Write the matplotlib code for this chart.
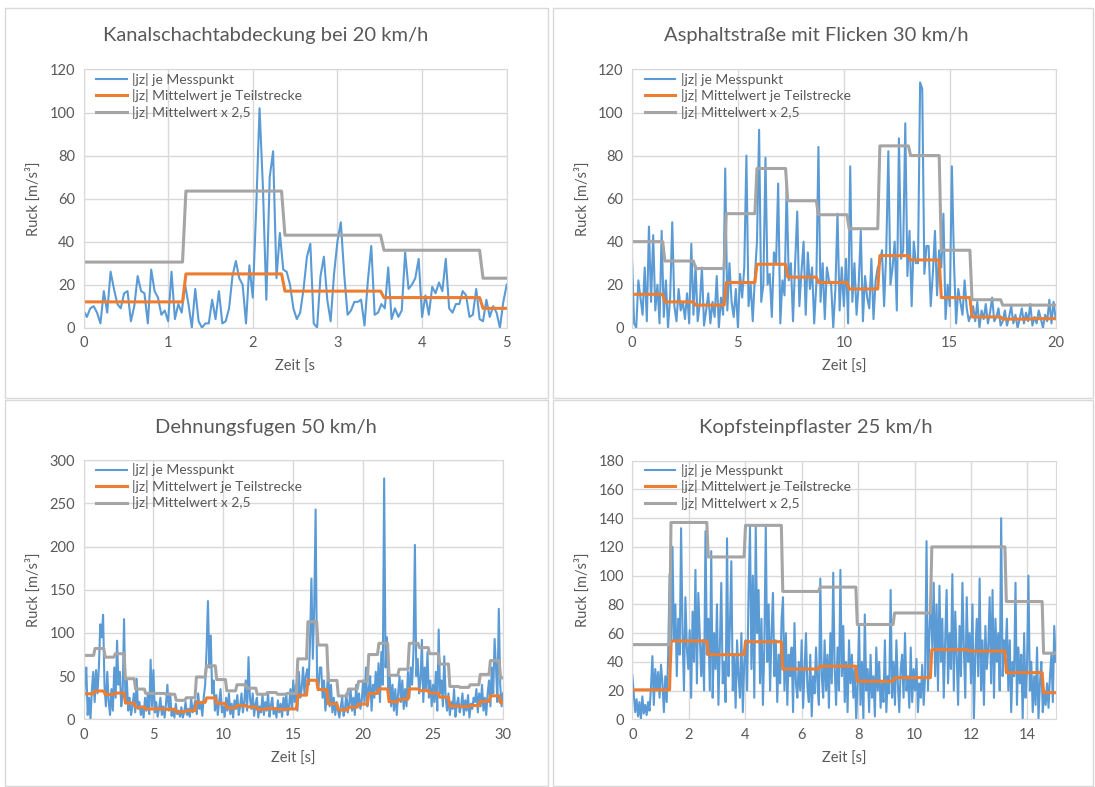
import numpy as np
import matplotlib.pyplot as plt
from matplotlib.patches import Rectangle

plt.rcParams['font.family'] = ['Lato', 'DejaVu Sans']

# --- Daten: Kanalschachtabdeckung 20 km/h ---
t1_end = 5
jz1 = [8, 5, 9, 10, 7, 2, 17, 7, 26, 18, 11, 9, 16, 17, 3, 10, 24, 17, 16, 2,
       27, 17, 14, 6, 8, 3, 26, 4, 11, 7, 20, 11, 0, 18, 3, 0, 2, 2, 13, 4,
       17, 2, 3, 9, 24, 31, 23, 20, 2, 29, 14, 55, 102, 65, 13, 70, 82, 23, 44, 27,
       26, 20, 9, 4, 7, 18, 33, 39, 2, 0, 24, 33, 13, 3, 25, 40, 49, 25, 6, 8,
       12, 12, 13, 1, 22, 38, 6, 7, 11, 9, 28, 4, 9, 5, 8, 35, 18, 20, 23, 32,
       5, 15, 6, 19, 16, 21, 17, 32, 9, 7, 11, 11, 17, 15, 5, 6, 18, 4, 3, 13,
       5, 10, 7, 0, 12, 20]
seg1 = 1.17
mittel1 = [12, 25, 17, 14, 9]
mittel1_25 = [30.5, 63.5, 43, 36, 23]

# --- Daten: Asphaltstraße mit Flicken 30 km/h ---
t2_end = 20
jz2 = [32, 2, 0, 22, 14, 6, 28, 3, 47, 12, 43, 8, 20, 2, 45,
       5, 22, 0, 14, 49, 10, 3, 18, 8, 12, 4, 16, 2, 39, 6,
       29, 3, 11, 28, 1, 8, 16, 2, 12, 5, 24, 0, 14, 6,
       74, 8, 30, 12, 5, 18, 0, 25, 14, 28, 80, 10, 20, 3, 24,
       40, 92, 12, 20, 79, 20, 25, 5, 35, 30, 67, 2, 22, 15,
       66, 22, 30, 3, 30, 54, 10, 26, 40, 6, 35, 18, 28, 2, 20,
       84, 12, 30, 4, 28, 22, 20, 0, 18, 53, 8, 28, 10, 32,
       2, 75, 12, 30, 6, 20, 45, 3, 24, 14, 9, 32, 4, 22, 28,
       30, 36, 10, 35, 82, 20, 28, 40, 8, 88, 32, 36, 95, 24,
       45, 10, 40, 30, 30, 114, 111, 25, 38, 38, 10, 25, 45, 15, 36,
       28, 53, 4, 20, 10, 75, 30, 2, 18, 12, 6, 22, 9, 3,
       6, 10, 3, 12, 0, 8, 4, 11, 2, 7, 14, 3, 5, 9, 1,
       3, 8, 1, 5, 10, 2, 6, 0, 4, 9, 2, 7, 3, 11, 1, 5, 2, 8, 4, 0, 6, 3, 13, 2, 12, 4]
seg2 = 1.45
mittel2 = [15.5, 12, 10.5, 21, 29.5, 23.5, 21, 18, 33.5, 31.5, 14, 5, 4, 4.2]
mittel2_25 = [40, 31, 27.5, 53, 74, 59, 52.5, 46, 84.5, 80, 36, 13, 10.5, 10.5]

# --- Daten: Dehnungsfugen 50 km/h ---
t3_end = 30
jz3 = [10, 45, 60, 5, 25, 0, 35, 55, 20, 57,
       30, 60, 110, 95, 121, 40, 15, 55, 20, 5,
       35, 10, 60, 25, 91, 40, 55, 15, 30, 116,
       20, 45, 10, 25, 5, 15, 30, 8, 47, 12,
       20, 5, 15, 2, 25, 10, 30, 6, 69, 15,
       57, 8, 20, 3, 12, 25, 5, 15, 2, 18,
       40, 10, 30, 4, 12, 2, 18, 6, 10, 3,
       14, 2, 8, 20, 5, 12, 3, 25, 8, 15,
       22, 6, 30, 12, 18, 4, 26, 40, 80, 137,
       60, 97, 30, 45, 10, 28, 5, 20, 35, 8,
       15, 3, 25, 10, 30, 6, 18, 2, 22, 12,
       28, 5, 15, 30, 8, 20, 45, 10, 72, 25,
       12, 30, 4, 18, 25, 2, 15, 8, 28, 5,
       20, 10, 30, 3, 16, 25, 6, 12, 2, 22,
       8, 18, 3, 25, 10, 30, 5, 15, 35, 12,
       45, 20, 40, 10, 55, 25, 35, 60, 30, 50,
       58, 40, 90, 163, 70, 130, 243, 50, 35, 60,
       60, 25, 45, 10, 30, 55, 15, 40, 8, 25,
       5, 20, 10, 2, 15, 25, 4, 12, 30, 8,
       18, 35, 10, 25, 5, 40, 15, 30, 12, 22,
       45, 20, 60, 15, 35, 50, 10, 40, 25, 55,
       30, 65, 20, 78, 40, 279, 60, 95, 30, 50,
       15, 40, 10, 35, 5, 30, 50, 20, 45, 12,
       35, 15, 55, 25, 60, 40, 80, 202, 50, 70,
       30, 45, 92, 20, 60, 35, 78, 25, 45, 15,
       40, 20, 55, 10, 104, 30, 45, 15, 73, 25,
       10, 30, 5, 20, 12, 35, 3, 18, 25, 8,
       15, 30, 5, 22, 10, 28, 2, 18, 12, 25,
       20, 35, 8, 30, 15, 40, 10, 25, 5, 30,
       45, 15, 60, 30, 93, 60, 20, 128, 40, 15,
       30]
seg3 = 0.725
mittel3 = [29.6, 32.8, 28.8, 30.4, 18.8, 14, 12, 12, 11.6, 8.8, 10, 19.6, 24.8, 18.4,
           13.2, 16, 14.4, 11.6, 12.4, 11.6, 12, 28, 45.2, 34.4, 18, 10.8, 14, 17.6,
           30, 35.2, 20.4, 23.2, 35.2, 33.2, 30.4, 25.6, 15.2, 14.8, 16, 20.8, 27.2, 19.2]
mittel3_25 = [74, 82, 72, 76, 47, 35, 30, 30, 29, 22, 25, 49, 62, 46,
              33, 40, 36, 29, 31, 29, 30, 70, 113, 86, 45, 27, 35, 44,
              75, 88, 51, 58, 88, 83, 76, 64, 38, 37, 40, 52, 68, 48]

# --- Daten: Kopfsteinpflaster 25 km/h ---
t4_end = 15
jz4 = [31, 18, 5, 14, 2, 12, 0, 16, 4, 10, 3, 12, 6, 22, 44, 10, 35, 20, 33, 15, 38, 25, 5, 30, 12, 45,
       101, 40, 120, 55, 80, 30, 70, 45, 133, 60, 20, 85, 50, 35, 62, 15, 75, 40, 104, 25, 88, 60, 30, 55, 20, 131, 45,
       70, 20, 117, 15, 60, 35, 80, 10, 50, 95, 25, 40, 12, 126, 30, 65, 110, 20, 45, 8, 55, 30, 15, 60, 5, 40,
       55, 20, 88, 134, 35, 100, 15, 134, 60, 90, 25, 70, 10, 50, 134, 40, 80, 20, 60, 88, 30, 55, 12, 45, 25, 70,
       85, 20, 60, 10, 45, 30, 50, 5, 67, 25, 15, 40, 20, 55, 8, 35, 60, 22, 12, 45, 2, 30, 18, 50, 25, 10,
       98, 30, 15, 55, 20, 45, 8, 60, 25, 102, 35, 10, 50, 20, 104, 30, 65, 12, 40, 5, 55, 25, 45, 15, 35, 0,
       25, 65, 10, 40, 0, 73, 20, 35, 5, 45, 15, 30, 2, 50, 20, 40, 8, 25, 12, 55, 5, 30, 18, 90, 15,
       40, 10, 55, 25, 5, 35, 45, 15, 60, 20, 30, 8, 50, 12, 35, 20, 42, 5, 25, 15, 38, 10, 30, 124, 20, 60, 85,
       50, 95, 30, 80, 20, 93, 40, 70, 15, 55, 90, 25, 60, 35, 101, 20, 75, 45, 10, 65, 30, 95, 50, 15, 85, 40,
       60, 25, 80, 0, 45, 70, 30, 98, 20, 55, 10, 65, 35, 50, 85, 25, 90, 15, 70, 40, 60, 20, 140, 30, 55, 45,
       70, 20, 55, 5, 40, 30, 95, 10, 50, 25, 45, 0, 60, 15, 35, 100, 20, 40, 5, 30, 10, 50, 0, 25, 40,
       5, 20, 10, 25, 8, 30, 45, 12, 65, 40]
seg4 = 1.32
mittel4 = [20.5, 54.5, 45, 54, 35, 37, 26.5, 29, 48.5, 47.5, 32.5, 18.5]
mittel4_25 = [52, 137, 113, 135, 89, 92, 66, 74, 120, 120, 82, 46]

labels = ['|jz| je Messpunkt', '|jz| Mittelwert je Teilstrecke', '|jz| Mittelwert x 2,5']
txt = '#595959'
grid = '#D9D9D9'
W, H = 1095, 787


def box(x0, y0, x1, y1):
    return [x0 / W, 1 - y1 / H, (x1 - x0) / W, (y1 - y0) / H]


def stufen(levels, seg, t_end, dt):
    xs, ys = [], []
    for k, lv in enumerate(levels):
        a = k * seg + (dt if k > 0 else 0)
        b = min((k + 1) * seg, t_end)
        xs += [a, b]
        ys += [lv, lv]
    return xs, ys


def panel(rect, title, tcx, tcy, t_end, jz, seg, m, m25, ymax, ystep, xticks, xlabel):
    ax = fig.add_axes(box(*rect))
    t = np.linspace(0, t_end, len(jz))
    dt = t[1] - t[0]
    ax.plot(t, jz, color='#5B9BD5', lw=1.5, label=labels[0])
    xs, ys = stufen(m, seg, t_end, dt)
    ax.plot(xs, ys, color='#ED7D31', lw=2.2, label=labels[1])
    xs, ys = stufen(m25, seg, t_end, dt)
    ax.plot(xs, ys, color='#A5A5A5', lw=2.2, label=labels[2])
    ax.set_xlim(0, t_end)
    ax.set_ylim(0, ymax)
    ax.set_yticks(np.arange(0, ymax + 1, ystep))
    ax.set_xticks(xticks)
    ax.grid(True, color=grid, lw=1)
    ax.set_axisbelow(True)
    for s in ax.spines.values():
        s.set_color(grid)
    ax.tick_params(length=0, colors=txt, labelsize=10.5, pad=6)
    ax.set_xlabel(xlabel, color=txt, fontsize=10.5, labelpad=7)
    ax.set_ylabel('Ruck [m/s³]', color=txt, fontsize=10.5, labelpad=6)
    ax.legend(loc='upper left', bbox_to_anchor=(0.01, 1.02), frameon=False,
              fontsize=10, labelcolor=txt, handlelength=2.2, handletextpad=0.4,
              labelspacing=0.25, borderaxespad=0.2)
    fig.text(tcx / W, 1 - tcy / H, title, ha='center', va='center',
             fontsize=14.5, color=txt)
    return ax


fig = plt.figure(figsize=(10.95, 7.87), dpi=100)

for r in [(5, 8, 548, 398), (553, 8, 1093, 398), (5, 400, 548, 786), (553, 400, 1093, 786)]:
    fig.patches.append(Rectangle((r[0] / W, 1 - r[3] / H), (r[2] - r[0]) / W, (r[3] - r[1]) / H,
                                 transform=fig.transFigure, fill=False, edgecolor=grid, lw=1))

panel((83.5, 69.5, 506.7, 327.7), 'Kanalschachtabdeckung bei 20 km/h', 266, 36,
      t1_end, jz1, seg1, mittel1, mittel1_25, 120, 20, [0, 1, 2, 3, 4, 5], 'Zeit [s')
panel((632, 69.5, 1055.7, 327.7), 'Asphaltstraße mit Flicken 30 km/h', 816, 36,
      t2_end, jz2, seg2, mittel2, mittel2_25, 120, 20, [0, 5, 10, 15, 20], 'Zeit [s]')
panel((83.5, 460.3, 503, 719.3), 'Dehnungsfugen 50 km/h', 266, 428,
      t3_end, jz3, seg3, mittel3, mittel3_25, 300, 50, [0, 5, 10, 15, 20, 25, 30], 'Zeit [s]')
panel((632.3, 460.7, 1055.7, 719.3), 'Kopfsteinpflaster 25 km/h', 816, 428,
      t4_end, jz4, seg4, mittel4, mittel4_25, 180, 20, [0, 2, 4, 6, 8, 10, 12, 14], 'Zeit [s]')

fig.savefig('out.png', dpi=100)
